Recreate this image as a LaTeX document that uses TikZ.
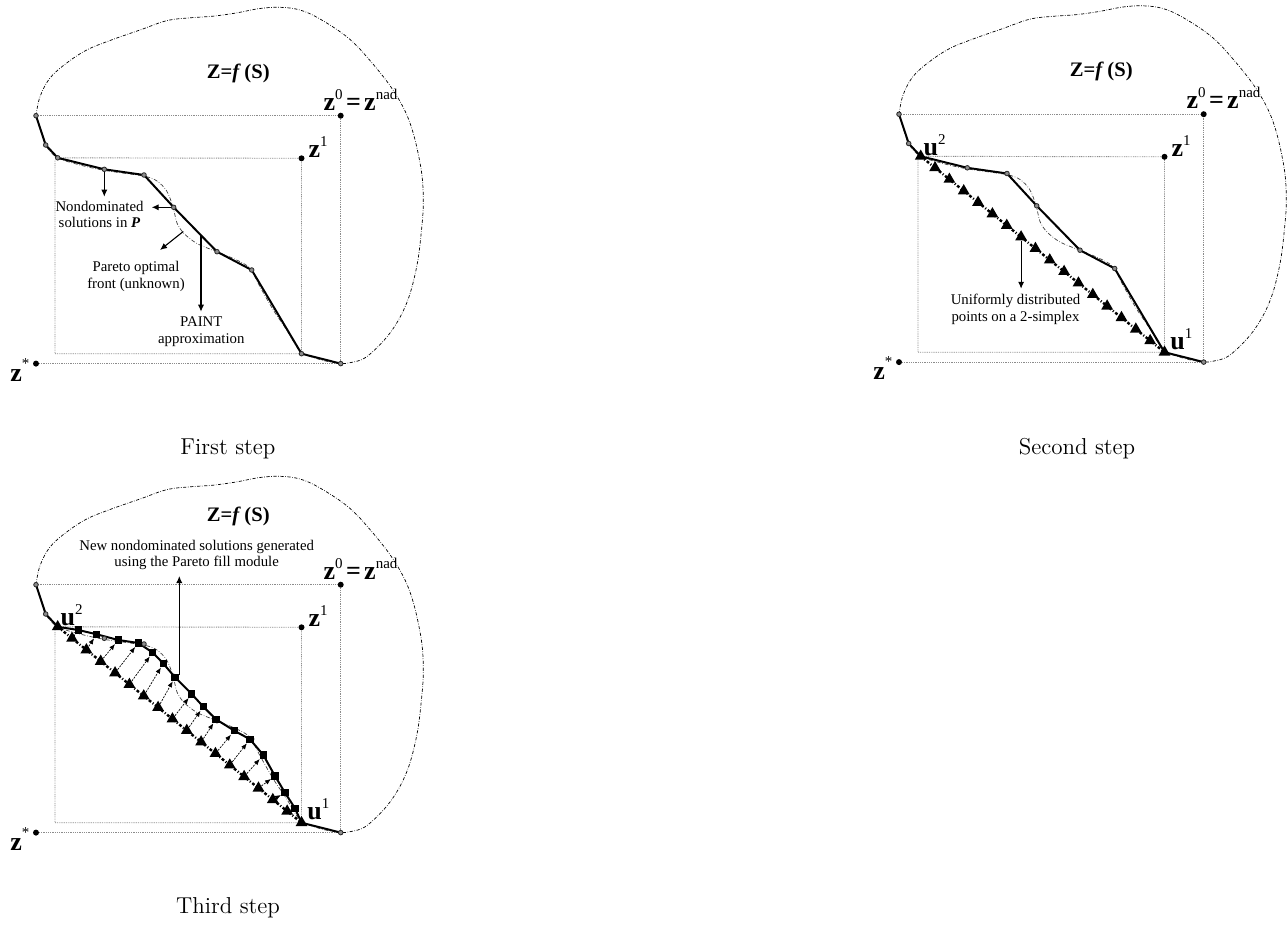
\documentclass[tikz,border=0pt]{standalone}
\usepackage{fontspec}
\usetikzlibrary{arrows.meta,shapes.geometric,calc}
\newfontfamily\tms{Liberation Serif}
\newcommand{\zf}{\tms\fontsize{13}{13}\selectfont\bfseries}
\newcommand{\supf}{\tms\fontsize{7.5}{8}\selectfont\mdseries}
\newcommand{\lblf}{\tms\fontsize{7.4}{8.3}\selectfont}
\newcommand{\vsym}[2]{{\zf #1}\raisebox{5.5pt}{\supf #2}}

% objective space, ideal/nadir boxes, true front and PAINT points shared by all panels
\newcommand{\panelframe}{%
  \coordinate (p1) at (36,115.7);
  \coordinate (p2) at (45.7,145);
  \coordinate (p3) at (57.7,157.8);
  \coordinate (p4) at (104.3,169.3);
  \coordinate (p5) at (144,175);
  \coordinate (p6) at (173.7,207.3);
  \coordinate (p7) at (217,251.7);
  \coordinate (p8) at (251.7,270);
  \coordinate (p9) at (301.5,353.7);
  \coordinate (p10) at (340.7,363.6);
  \coordinate (ib) at (55,353.7);
  \coordinate (it) at (55,160);
  \node[refpt] (z0) at (340.7,115.7) {};
  \node[refpt] (z1) at (301.5,158.3) {};
  \node[refpt] (zs) at (36,363.6) {};
  \draw[guide] (p1) -- (z0) -- (p10) -- (zs) -- cycle;
  \draw[guide] (p3) -- (z1) -- (p9) -- (ib) -- (it);
  \draw[outline] plot[smooth,tension=0.6] coordinates {
    (36,115.7) (40,96.7) (50,78) (66.7,63) (86.7,50) (110,40.5) (140,30)
    (166.7,20.7) (190,17.8) (213,16.2) (236,13) (260,8.5) (280,7.3) (300,10)
    (320,19) (346.7,36.7) (366.7,56.7) (393,90) (410,123) (420.7,166.7)
    (423.3,200) (421.5,230) (416.7,266.7) (406.7,303) (390,333) (366.7,356.7)
    (350,362.7) (340.7,363.6)};
  \draw[front] plot[smooth,tension=0.5] coordinates {
    (36,115.7) (45.7,145) (57.7,157.8) (80,165) (105,170.5) (143.3,176)
    (157,181) (166.7,191) (173,206.7) (177,223) (184,233.5) (197,243.5)
    (216.7,251.7) (236.7,260) (250,268.3) (260,286.7) (273.3,310)
    (286.7,330) (296.7,346.7) (304,354) (323.3,360.5) (340.7,363.6)};
  \node[anchor=base west,inner sep=0pt] (z0lab) at (323.3,110)
    {\vsym{z}{0}\,{\zf =}\,\vsym{z}{nad}};
  \node[anchor=base west,inner sep=0pt] (z1lab) at (308.3,157.5) {\vsym{z}{1}};
  \node[anchor=base west,inner sep=0pt] (zslab) at (10,381)
    {{\zf z}\raisebox{6.5pt}{\supf *}};
}
\newcommand{\paintdots}{\foreach \k in {1,...,10} {\node[ppt] (q\k) at (p\k) {};}}
\newcommand{\simplexline}{\draw[simplex] (p3) -- (p9);}
\newcommand{\simplexpts}{\foreach \i in {0,...,17} {\node[tri] (t\i) at ($(p3)!\i/17!(p9)$) {};}}
\newcommand{\ulabels}{%
  \node[anchor=base west,inner sep=0pt] (u2lab) at (60.3,156.5) {\vsym{u}{2}};
  \node[anchor=base west,inner sep=0pt] (u1lab) at (307,350.5) {\vsym{u}{1}};
}

\begin{document}
\begin{tikzpicture}[x=0.5pt,y=-0.5pt,
  outline/.style={line width=0.35pt,dash pattern=on 1.6pt off 0.8pt on 0.3pt off 0.8pt},
  front/.style={line width=0.35pt,black!75,dash pattern=on 2pt off 0.9pt on 0.3pt off 0.9pt},
  guide/.style={line width=0.45pt,black!45,dash pattern=on 0.45pt off 0.45pt},
  paint/.style={line width=1pt,line join=round},
  simplex/.style={line width=1.2pt,dash pattern=on 1.4pt off 1pt on 0.5pt off 1pt},
  fillarrow/.style={line width=0.35pt,dash pattern=on 1pt off 0.6pt,-{Latex[length=3pt,width=2.4pt]}},
  callout/.style={line width=0.55pt,-{Latex[length=3.5pt,width=3.1pt]}},
  ppt/.style={circle,draw=black!85,fill=black!45,line width=0.4pt,minimum size=2.3pt,inner sep=0pt},
  refpt/.style={circle,fill=black,minimum size=3pt,inner sep=0pt},
  tri/.style={regular polygon,regular polygon sides=3,fill=black,minimum size=6.8pt,inner sep=0pt},
  sq/.style={rectangle,fill=black,minimum size=3.6pt,inner sep=0pt},
  lbl/.style={font=\lblf,align=center,inner sep=0pt},
  zlbl/.style={font=\tms\fontsize{10.3}{12}\selectfont\bfseries,anchor=base,inner sep=0pt},
  caption/.style={font=\fontsize{11.5}{13}\selectfont,inner sep=0pt}]
\useasboundingbox (0,0) rectangle (1287,932);

% ---------- first step: PAINT approximation ----------
\begin{scope}[name prefix=A-]
  \panelframe
  \draw[paint] (p1) -- (p2) -- (p3) -- (p4) -- (p5) -- (p6) -- (p7) -- (p8) -- (p9) -- (p10);
  \paintdots
  \node[zlbl] (zz) at (238.3,78.3) {Z=\textit{f}\,(S)};
  \coordinate (a1) at (104.3,196.7);
  \coordinate (a2) at (151.7,207.3);
  \coordinate (a3s) at (183.3,231.5);
  \coordinate (a3) at (160,250);
  \coordinate (a4s) at (201,235.3);
  \coordinate (a4) at (201,311.7);
  \draw[callout] (q4) -- (a1);
  \draw[callout] (q6) -- (a2);
  \draw[callout] (a3s) -- (a3);
  \draw[callout] (a4s) -- (a4);
  \node[lbl] (nd) at (99.5,214.5) {Nondominated\\solutions in \textbf{\textit{P}}};
  \node[lbl] (po) at (136,276.5) {Pareto optimal\\front (unknown)};
  \node[lbl] (pa) at (201.3,331.5) {PAINT\\approximation};
\end{scope}
\node[caption] (cap1) at (228,449) {First step};

% ---------- second step: uniform points on the simplex ----------
\begin{scope}[name prefix=B-,shift={(863,-1.5)}]
  \panelframe
  \draw[paint] (p1) -- (p2) -- (p3) -- (p4) -- (p5) -- (p6) -- (p7) -- (p8) -- (p9) -- (p10);
  \paintdots
  \simplexline
  \simplexpts
  \ulabels
  \node[zlbl] (zz) at (238.3,78.3) {Z=\textit{f}\,(S)};
  \coordinate (b1) at ($(t7.south)+(0,48)$);
  \draw[callout] (t7.south) -- (b1);
  \node[lbl] (ud) at (152.5,311) {Uniformly distributed\\points on a 2-simplex};
\end{scope}
\node[caption] (cap2) at (1077,449) {Second step};

% ---------- third step: Pareto fill ----------
\begin{scope}[name prefix=C-,shift={(0,469)}]
  \panelframe
  \coordinate (s1) at (78.3,161);
  \coordinate (s2) at (96.7,165.3);
  \coordinate (s3) at (118.3,171);
  \coordinate (s4) at (138.3,174);
  \coordinate (s5) at (152.7,183.5);
  \coordinate (s6) at (163.3,194.5);
  \coordinate (s7) at (175,208.3);
  \coordinate (s8) at (191.7,225);
  \coordinate (s9) at (203.3,237.7);
  \coordinate (s10) at (216,250.3);
  \coordinate (s11) at (234.3,261.7);
  \coordinate (s12) at (250,270.3);
  \coordinate (s13) at (263.3,286);
  \coordinate (s14) at (275,307);
  \coordinate (s15) at (285,323.7);
  \coordinate (s16) at (295,339.3);
  \draw[paint] (p1) -- (p2) -- (p3) -- (s1) -- (s2) -- (s3) -- (s4) -- (s5) -- (s6) -- (s7)
    -- (s8) -- (s9) -- (s10) -- (s11) -- (s12) -- (s13) -- (s14) -- (s15) -- (s16) -- (p9) -- (p10);
  \paintdots
  \simplexline
  \simplexpts
  \foreach \i in {1,...,16} {\node[sq] (r\i) at (s\i) {};}
  \foreach \i in {1,...,16} {\draw[fillarrow] (t\i) -- (r\i);}
  \ulabels
  \node[zlbl] (zz) at (238.3,52.7) {Z=\textit{f}\,(S)};
  \node[lbl] (nn) at (196.7,86) {New nondominated solutions generated\\using the Pareto fill module};
  \coordinate (c1s) at (179.3,206);
  \coordinate (c1) at (179.3,107);
  \draw[callout] (c1s) -- (c1);
\end{scope}
\node[caption] (cap3) at (228,908) {Third step};
\end{tikzpicture}
\end{document}
